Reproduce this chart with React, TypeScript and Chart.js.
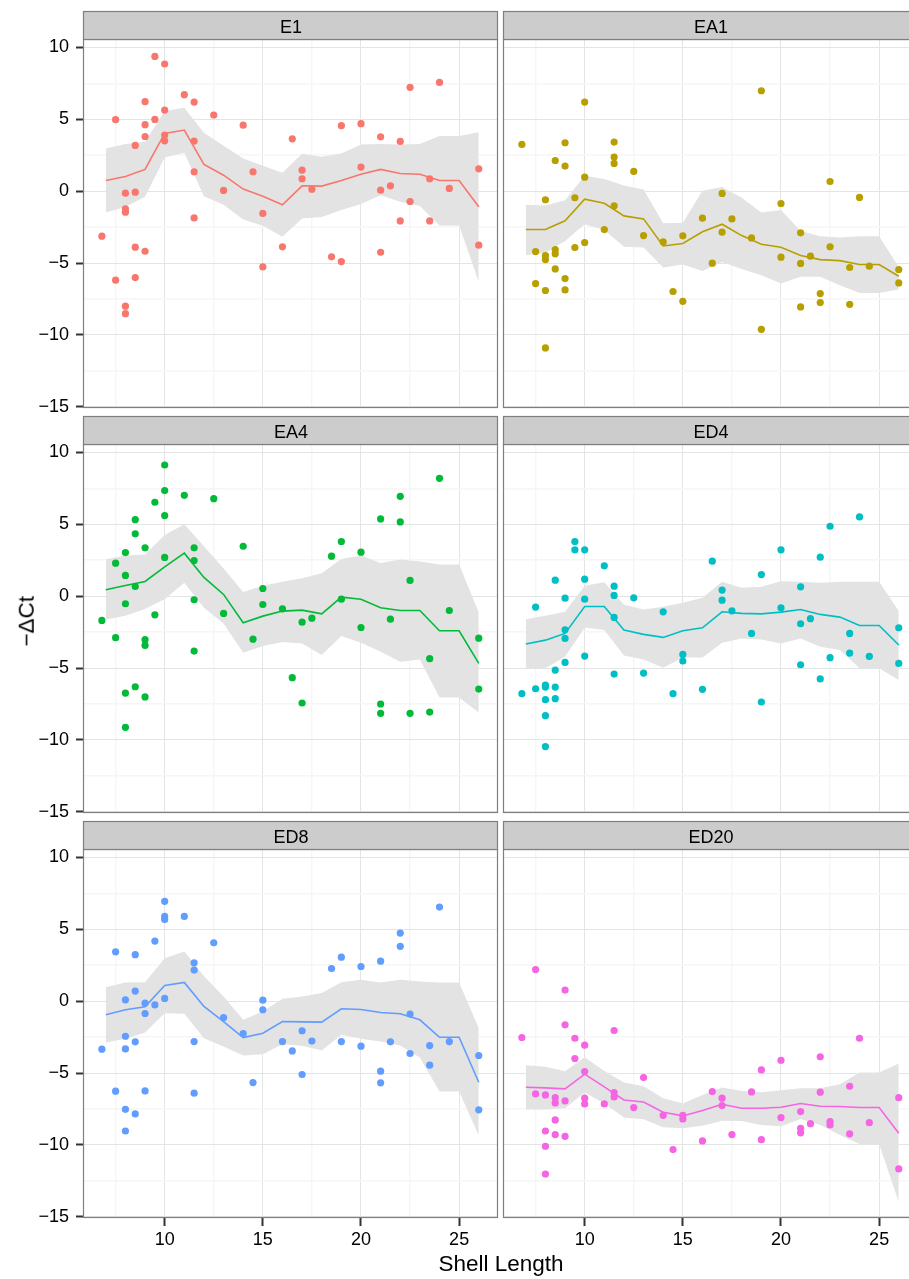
import React, { useEffect, useRef } from 'react';
import { Chart, registerables } from 'chart.js';

Chart.register(...registerables);

const FONT = '"Liberation Sans", Arial, Helvetica, sans-serif';

// axis limits (ggplot-style 5% expansion around the data)
const X_MIN = 5.89;
const X_MAX = 26.98;
const Y_MIN = -15.08;
const Y_MAX = 10.51;

// ticks (major + minor grid positions) and labels
const X_TICKS = [7.5, 10, 12.5, 15, 17.5, 20, 22.5, 25];
const X_MAJOR = [10, 15, 20, 25];
const X_LABELS = ['10', '15', '20', '25'];
const Y_TICKS = [-15, -12.5, -10, -7.5, -5, -2.5, 0, 2.5, 5, 7.5, 10];
const Y_MAJOR = [-15, -10, -5, 0, 5, 10];
const Y_LABELS = ['\u221215', '\u221210', '\u22125', '0', '5', '10'];

const X_TITLE = 'Shell Length';
const Y_TITLE = '\u2212\u0394Ct';

const FACETS = ['E1', 'EA1', 'EA4', 'ED4', 'ED8', 'ED20'];
const COLORS = ['#F8766D', '#B79F00', '#00BA38', '#00BFC4', '#619CFF', '#F564E3'];

// x positions of the smoothed mean line and its band
const SMOOTH_X = [7, 8, 9, 10, 11, 12, 13, 14, 15, 16, 17, 18, 19, 20, 21, 22, 23, 24, 25, 26];

// ---------- E1 ----------
const E1_X = [6.8, 7.5, 7.5, 8, 8, 8, 8, 8, 8.5, 8.5, 8.5, 8.5, 9, 9, 9, 9, 9.5, 9.5, 10, 10, 10, 10, 11, 11.5, 11.5, 11.5, 11.5, 12.5, 13, 14, 14.5, 15, 15, 16, 16.5, 17, 17, 17.5, 18.5, 19, 19, 20, 20, 21, 21, 21, 21.5, 22, 22, 22.5, 22.5, 23.5, 23.5, 24, 24.5, 26, 26];
const E1_Y = [-3.13, 4.97, -6.19, -0.14, -1.23, -1.46, -8.0, -8.52, 3.18, -0.07, -3.9, -6.01, 6.22, 4.62, 3.8, -4.18, 9.37, 4.99, 8.84, 5.64, 3.9, 3.5, 6.71, 6.19, 3.48, 1.35, -1.86, 5.29, 0.05, 4.59, 1.35, -1.55, -5.27, -3.87, 3.64, 1.46, 0.86, 0.14, -4.57, 4.55, -4.9, 4.69, 1.67, 3.78, 0.07, -4.25, 0.37, 3.46, -2.07, 7.22, -0.72, 0.86, -2.07, 7.56, 0.19, 1.55, -3.76];
const E1_MEAN = [0.74, 1.02, 1.51, 4.01, 4.25, 1.86, 1.11, 0.14, -0.35, -0.95, 0.37, 0.35, 0.74, 1.18, 1.51, 1.23, 1.18, 0.74, 0.74, -1.09];
const E1_HI = [2.97, 3.27, 3.43, 5.57, 5.8, 4.06, 3.16, 2.27, 1.76, 1.28, 2.6, 2.39, 2.62, 3.25, 3.27, 3.25, 3.27, 3.83, 3.83, 4.1];
const E1_LO = [-1.48, -1.09, -0.39, 2.34, 2.67, -0.35, -0.95, -1.97, -2.41, -3.18, -1.9, -1.79, -1.32, -0.9, -0.28, -0.74, -1.04, -2.39, -2.39, -6.31];

// ---------- EA1 ----------
const EA1_X = [6.8, 7.5, 7.5, 8, 8, 8, 8, 8, 8.5, 8.5, 8.5, 8.5, 9, 9, 9, 9, 9.5, 9.5, 10, 10, 10, 11, 11.5, 11.5, 11.5, 11.5, 12.5, 13, 14, 14.5, 15, 15, 16, 16.5, 17, 17, 17.5, 18.5, 19, 19, 20, 20, 21, 21, 21, 21.5, 22, 22, 22.5, 22.5, 23.5, 23.5, 24, 24.5, 26, 26];
const EA1_Y = [3.25, -4.2, -6.43, -0.6, -4.48, -4.76, -6.91, -10.9, 2.13, -4.06, -4.36, -5.41, 3.36, 1.74, -6.08, -6.87, -0.46, -3.92, 6.19, 0.97, -3.57, -2.67, 3.41, 2.37, 1.93, -1.02, 1.37, -3.09, -3.53, -6.98, -3.11, -7.66, -1.88, -5.01, -0.16, -2.85, -1.93, -3.25, 6.98, -9.61, -0.86, -4.59, -2.9, -5.03, -8.05, -4.52, -7.12, -7.75, 0.67, -3.87, -5.31, -7.87, -0.44, -5.22, -5.45, -6.38];
const EA1_MEAN = [-2.67, -2.67, -2.06, -0.56, -0.84, -1.72, -1.93, -3.81, -3.64, -2.83, -2.3, -3.09, -3.69, -3.9, -4.48, -4.76, -4.83, -5.1, -5.1, -5.92];
const EA1_HI = [-0.95, -1.0, -0.63, 1.07, 0.84, 0.39, 0.12, -2.23, -2.2, 0.02, 0.28, -0.46, -1.48, -1.32, -2.78, -3.13, -3.23, -3.13, -3.13, -5.27];
const EA1_LO = [-4.45, -4.29, -3.46, -2.3, -2.71, -3.87, -3.92, -5.31, -5.1, -5.55, -4.92, -5.41, -5.85, -6.43, -5.96, -5.96, -6.54, -7.08, -7.08, -6.84];

// ---------- EA4 ----------
const EA4_X = [6.8, 7.5, 7.5, 8, 8, 8, 8, 8, 8.5, 8.5, 8.5, 8.5, 9, 9, 9, 9, 9.5, 9.5, 10, 10, 10, 10, 11, 11.5, 11.5, 11.5, 11.5, 12.5, 13, 14, 14.5, 15, 15, 16, 16.5, 17, 17, 17.5, 18.5, 19, 19, 20, 20, 21, 21, 21, 21.5, 22, 22, 22.5, 22.5, 23.5, 23.5, 24, 24.5, 26, 26];
const EA4_Y = [-1.69, 2.29, -2.89, 3.03, 1.44, -0.53, -6.74, -9.12, 5.32, 4.33, 0.67, -6.3, 3.36, -3.03, -3.43, -7.01, 6.53, -1.3, 9.12, 7.34, 5.6, 2.69, 7.01, 3.36, 2.48, -0.25, -3.82, 6.78, -1.2, 3.47, -2.99, 0.53, -0.58, -0.88, -5.67, -1.81, -7.43, -1.53, 2.78, 3.8, -0.21, 3.06, -2.18, 5.37, -7.5, -8.15, -1.6, 6.94, 5.16, 1.09, -8.15, -4.35, -8.06, 8.19, -1.0, -2.92, -6.46];
const EA4_MEAN = [0.44, 0.74, 1.02, 2.04, 2.99, 1.3, 0.12, -1.85, -1.39, -1.04, -0.97, -1.23, -0.07, -0.21, -0.81, -1.0, -1.0, -2.41, -2.41, -4.68];
const EA4_HI = [2.57, 2.82, 2.89, 4.26, 5.0, 3.47, 1.92, 0.28, 0.72, 1.0, 1.25, 1.6, 2.59, 2.82, 2.31, 2.55, 2.41, 2.2, 2.2, -1.13];
const EA4_LO = [-1.62, -1.37, -0.9, -0.21, 0.93, -0.81, -1.9, -3.94, -3.47, -3.19, -3.29, -4.1, -2.78, -3.24, -3.87, -4.56, -4.4, -7.04, -7.04, -8.1];

// ---------- ED4 ----------
const ED4_X = [6.8, 7.5, 7.5, 8, 8, 8, 8, 8, 8.5, 8.5, 8.5, 8.5, 9, 9, 9, 9, 9.5, 9.5, 10, 10, 10, 10, 11, 11.5, 11.5, 11.5, 11.5, 12.5, 13, 14, 14.5, 15, 15, 16, 16.5, 17, 17, 17.5, 18.5, 19, 19, 20, 20, 21, 21, 21, 21.5, 22, 22, 22.5, 22.5, 23.5, 23.5, 24, 24.5, 26, 26];
const ED4_Y = [-6.78, -0.76, -6.44, -6.18, -6.32, -7.2, -8.31, -10.46, 1.11, -5.14, -6.32, -7.13, -0.14, -2.34, -2.94, -4.61, 3.8, 3.22, 3.22, 1.18, -0.21, -4.17, 2.11, 0.69, 0.05, -1.48, -5.42, -0.12, -5.35, -1.09, -6.78, -4.05, -4.51, -6.48, 2.43, 0.42, -0.28, -1.02, -2.59, 1.5, -7.36, 3.22, -0.81, 0.65, -1.92, -4.77, -1.57, 2.71, -5.76, 4.86, -4.28, -2.59, -3.96, 5.51, -4.19, -2.2, -4.68];
const ED4_MEAN = [-3.33, -3.06, -2.59, -0.72, -0.72, -2.36, -2.66, -2.87, -2.41, -2.2, -1.09, -1.2, -1.23, -1.11, -0.93, -1.27, -1.46, -2.04, -2.04, -3.4];
const ED4_HI = [-1.6, -1.37, -1.09, 0.72, 0.97, -0.6, -0.93, -0.74, -0.46, -0.12, 1.0, 0.58, 0.65, 1.04, 1.0, 0.93, 1.0, 1.0, 1.0, -1.04];
const ED4_LO = [-5.02, -5.02, -4.21, -2.18, -2.36, -4.12, -4.4, -4.98, -4.26, -4.26, -3.24, -2.94, -3.01, -3.29, -2.94, -3.52, -3.75, -5.02, -5.02, -5.83];

// ---------- ED8 ----------
const ED8_X = [6.8, 7.5, 7.5, 8, 8, 8, 8, 8, 8.5, 8.5, 8.5, 8.5, 9, 9, 9, 9.5, 9.5, 10, 10, 10, 10, 11, 11.5, 11.5, 11.5, 11.5, 12.5, 13, 14, 14.5, 15, 15, 16, 16.5, 17, 17, 17.5, 18.5, 19, 19, 20, 20, 21, 21, 21, 21.5, 22, 22, 22.5, 22.5, 23.5, 23.5, 24, 24.5, 26, 26];
const ED8_Y = [-3.34, 3.43, -6.26, 0.09, -2.44, -3.32, -7.52, -9.03, 3.23, 0.7, -2.83, -7.84, -0.14, -0.86, -6.24, 4.18, -0.26, 6.94, 5.89, 5.68, 0.19, 5.89, 2.67, 2.16, -2.81, -6.4, 4.06, -1.14, -2.25, -5.66, 0.07, -0.6, -2.81, -3.46, -2.06, -5.1, -2.78, 2.27, 3.06, -2.81, 2.41, -3.13, 2.78, -4.87, -5.68, -2.83, 4.73, 3.81, -0.9, -3.64, -3.09, -4.45, 6.54, -2.81, -3.78, -7.56];
const ED8_MEAN = [-0.95, -0.6, -0.39, 1.09, 1.3, -0.37, -1.42, -2.53, -2.23, -1.42, -1.44, -1.46, -0.53, -0.58, -0.79, -0.88, -1.3, -2.51, -2.51, -5.64];
const ED8_HI = [0.97, 1.3, 1.32, 2.99, 3.46, 1.74, 0.32, -1.3, -0.72, 0.16, 0.32, 0.56, 1.32, 1.48, 1.3, 1.48, 1.37, 1.3, 1.3, -1.88];
const ED8_LO = [-2.88, -2.62, -2.18, -0.84, -0.88, -2.58, -3.16, -3.78, -3.69, -2.99, -3.11, -3.43, -2.34, -2.62, -2.81, -3.09, -3.92, -6.29, -6.29, -9.35];

// ---------- ED20 ----------
const ED20_X = [6.8, 7.5, 7.5, 8, 8, 8, 8, 8.5, 8.5, 8.5, 8.5, 9, 9, 9, 9, 9.5, 9.5, 10, 10, 10, 10, 11, 11.5, 11.5, 11.5, 12.5, 13, 14, 14.5, 15, 15, 16, 16.5, 17, 17, 17.5, 18.5, 19, 19, 20, 20, 21, 21, 21, 21.5, 22, 22, 22.5, 22.5, 23.5, 23.5, 24, 24.5, 26, 26];
const ED20_Y = [-2.53, 2.2, -6.45, -6.52, -9.03, -10.09, -12.02, -6.71, -7.08, -8.26, -9.28, 0.77, -1.65, -6.94, -9.4, -2.58, -3.99, -3.06, -4.9, -6.75, -7.15, -7.15, -2.04, -6.36, -6.66, -7.4, -5.31, -7.94, -10.32, -7.94, -8.19, -9.72, -6.29, -6.75, -7.26, -9.28, -6.31, -4.78, -9.63, -4.11, -8.1, -7.68, -8.84, -9.16, -8.52, -3.87, -6.33, -8.38, -8.61, -5.92, -9.23, -2.58, -8.45, -6.71, -11.67];
const ED20_MEAN = [-5.99, -6.03, -6.1, -5.08, -5.96, -6.87, -7.01, -7.73, -7.98, -7.61, -7.17, -7.45, -7.45, -7.38, -7.12, -7.31, -7.33, -7.4, -7.4, -9.19];
const ED20_HI = [-4.45, -4.57, -4.87, -3.9, -4.85, -5.66, -5.92, -6.75, -7.12, -6.52, -6.01, -6.24, -6.33, -6.19, -6.06, -6.06, -5.78, -4.97, -4.97, -4.34];
const ED20_LO = [-7.54, -7.54, -7.45, -6.36, -7.12, -8.1, -8.21, -8.77, -8.84, -8.66, -8.31, -8.33, -8.61, -8.7, -8.19, -8.61, -9.3, -9.93, -9.93, -13.99];

type PanelDef = {
  name: string;
  color: string;
  col: number;
  row: number;
  xs: number[];
  ys: number[];
  mean: number[];
  hi: number[];
  lo: number[];
};

const PANELS: PanelDef[] = [
  { name: FACETS[0], color: COLORS[0], col: 0, row: 0, xs: E1_X, ys: E1_Y, mean: E1_MEAN, hi: E1_HI, lo: E1_LO },
  { name: FACETS[1], color: COLORS[1], col: 1, row: 0, xs: EA1_X, ys: EA1_Y, mean: EA1_MEAN, hi: EA1_HI, lo: EA1_LO },
  { name: FACETS[2], color: COLORS[2], col: 0, row: 1, xs: EA4_X, ys: EA4_Y, mean: EA4_MEAN, hi: EA4_HI, lo: EA4_LO },
  { name: FACETS[3], color: COLORS[3], col: 1, row: 1, xs: ED4_X, ys: ED4_Y, mean: ED4_MEAN, hi: ED4_HI, lo: ED4_LO },
  { name: FACETS[4], color: COLORS[4], col: 0, row: 2, xs: ED8_X, ys: ED8_Y, mean: ED8_MEAN, hi: ED8_HI, lo: ED8_LO },
  { name: FACETS[5], color: COLORS[5], col: 1, row: 2, xs: ED20_X, ys: ED20_Y, mean: ED20_MEAN, hi: ED20_HI, lo: ED20_LO },
];

const MAJOR_GRID = '#E4E4E4';
const MINOR_GRID = '#F6F6F6';
const RIBBON = '#E3E3E3';
const STRIP_FILL = '#CCCCCC';
const BORDER = '#7F7F7F';

function Panel({ def }: { def: PanelDef }) {
  const ref = useRef<HTMLCanvasElement>(null);
  const W = 500;
  const H = def.row === 2 ? 469 : 420;

  useEffect(() => {
    const isLeft = def.col === 0;
    const isBottom = def.row === 2;
    const facetPlugin = {
      id: 'facet',
      afterDraw(chart: any) {
        const { ctx, chartArea: a } = chart;
        ctx.save();
        const l = a.left - 0.5;
        const r = a.right - 0.5;
        const t = a.top - 0.5;
        const b = a.bottom - 0.5;
        ctx.strokeStyle = BORDER;
        ctx.lineWidth = 1.2;
        ctx.strokeRect(l, t, r - l, b - t);
        const st = a.top - 28.5;
        ctx.fillStyle = STRIP_FILL;
        ctx.fillRect(l, st, r - l, t - st);
        ctx.strokeRect(l, st, r - l, t - st);
        ctx.fillStyle = '#000';
        ctx.font = `18px ${FONT}`;
        ctx.textAlign = 'center';
        ctx.textBaseline = 'alphabetic';
        ctx.fillText(def.name, (a.left + a.right) / 2, a.top - 7);
        ctx.restore();
      },
    };

    const pts = def.xs.map((x, i) => ({ x, y: def.ys[i] }));
    const mean = SMOOTH_X.map((x, i) => ({ x, y: def.mean[i] }));
    const hi = SMOOTH_X.map((x, i) => ({ x, y: def.hi[i] }));
    const lo = SMOOTH_X.map((x, i) => ({ x, y: def.lo[i] }));

    const chart = new Chart(ref.current as HTMLCanvasElement, {
      type: 'scatter',
      data: {
        datasets: [
          {
            type: 'line',
            data: hi,
            showLine: true,
            borderColor: 'rgba(0,0,0,0)',
            borderWidth: 0,
            pointRadius: 0,
            backgroundColor: RIBBON,
            fill: '+1',
            tension: 0,
            order: 3,
          } as any,
          {
            type: 'line',
            data: lo,
            showLine: true,
            borderColor: 'rgba(0,0,0,0)',
            borderWidth: 0,
            pointRadius: 0,
            fill: false,
            tension: 0,
            order: 3,
          } as any,
          {
            type: 'scatter',
            data: pts,
            pointRadius: 3.6,
            pointBorderWidth: 0,
            backgroundColor: def.color,
            borderColor: def.color,
            order: 2,
          } as any,
          {
            type: 'line',
            data: mean,
            showLine: true,
            borderColor: def.color,
            borderWidth: 1.6,
            pointRadius: 0,
            fill: false,
            tension: 0,
            order: 1,
          } as any,
        ],
      },
      options: {
        responsive: false,
        maintainAspectRatio: false,
        animation: false,
        devicePixelRatio: 1,
        events: [],
        layout: { autoPadding: false, padding: { top: 40, right: 2, left: 0, bottom: 0 } },
        plugins: { legend: { display: false }, tooltip: { enabled: false }, title: { display: false } },
        scales: {
          x: {
            type: 'linear',
            min: X_MIN,
            max: X_MAX,
            afterBuildTicks: (s: any) => {
              s.ticks = X_TICKS.map((v) => ({ value: v }));
            },
            afterFit: (s: any) => {
              s.height = isBottom ? 61 : 12;
              s.paddingLeft = 0;
              s.paddingRight = 0;
              s.paddingTop = 0;
              s.paddingBottom = 0;
            },
            border: { display: false },
            grid: {
              color: (c: any) => (X_MAJOR.includes(c.tick?.value) ? MAJOR_GRID : MINOR_GRID),
              lineWidth: (c: any) => (X_MAJOR.includes(c.tick?.value) ? 1 : 1.4),
              drawTicks: isBottom,
              tickLength: 8,
              tickWidth: 2,
              tickColor: (c: any) => (X_MAJOR.includes(c.tick?.value) ? '#333333' : 'rgba(0,0,0,0)'),
            },
            ticks: {
              display: isBottom,
              autoSkip: false,
              maxRotation: 0,
              minRotation: 0,
              padding: 3,
              color: '#000',
              font: { family: FONT, size: 18 },
              callback: (v: any) => {
                const i = X_MAJOR.indexOf(Number(v));
                return i >= 0 ? X_LABELS[i] : '';
              },
            },
          },
          y: {
            type: 'linear',
            min: Y_MIN,
            max: Y_MAX,
            afterBuildTicks: (s: any) => {
              s.ticks = Y_TICKS.map((v) => ({ value: v }));
            },
            afterFit: (s: any) => {
              s.width = 84;
              s.paddingLeft = 0;
              s.paddingRight = 0;
              s.paddingTop = 0;
              s.paddingBottom = 0;
            },
            border: { display: false },
            grid: {
              color: (c: any) => (Y_MAJOR.includes(c.tick?.value) ? MAJOR_GRID : MINOR_GRID),
              lineWidth: (c: any) => (Y_MAJOR.includes(c.tick?.value) ? 1 : 1.4),
              drawTicks: isLeft,
              tickLength: 8,
              tickWidth: 2,
              tickColor: (c: any) => (Y_MAJOR.includes(c.tick?.value) ? '#333333' : 'rgba(0,0,0,0)'),
            },
            ticks: {
              display: isLeft,
              autoSkip: false,
              padding: 7,
              color: '#000',
              font: { family: FONT, size: 18 },
              callback: (v: any) => {
                const i = Y_MAJOR.indexOf(Number(v));
                return i >= 0 ? Y_LABELS[i] : '';
              },
            },
          },
        },
      } as any,
      plugins: [facetPlugin],
    });
    return () => chart.destroy();
  }, []);

  return (
    <canvas
      ref={ref}
      width={W}
      height={H}
      style={{
        position: 'absolute',
        left: def.col === 0 ? 0 : 420,
        top: def.row * 405,
        width: W,
        height: H,
      }}
    />
  );
}

export default function App() {
  return (
    <div
      style={{
        position: 'absolute',
        left: 0,
        top: 0,
        width: 909,
        height: 1279,
        overflow: 'hidden',
        background: '#ffffff',
      }}
    >
      {PANELS.map((p) => (
        <Panel key={p.name} def={p} />
      ))}
      <div
        style={{
          position: 'absolute',
          left: 301,
          top: 1253,
          width: 400,
          textAlign: 'center',
          fontFamily: FONT,
          fontSize: '22.5px',
          lineHeight: '22.5px',
          color: '#000',
          whiteSpace: 'nowrap',
        }}
      >
        {X_TITLE}
      </div>
      <div
        style={{
          position: 'absolute',
          left: 27 - 100,
          top: 621 - 11.25,
          width: 200,
          height: 22.5,
          textAlign: 'center',
          fontFamily: FONT,
          fontSize: '22.5px',
          lineHeight: '22.5px',
          color: '#000',
          whiteSpace: 'nowrap',
          transform: 'rotate(-90deg)',
          transformOrigin: '50% 50%',
        }}
      >
        {Y_TITLE}
      </div>
    </div>
  );
}
